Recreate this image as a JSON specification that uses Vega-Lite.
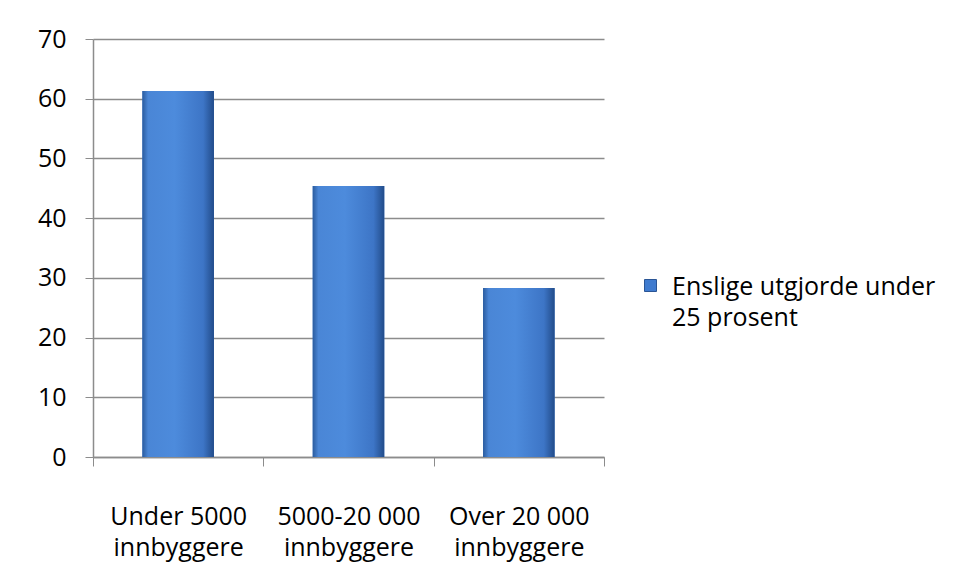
{
  "$schema": "https://vega.github.io/schema/vega-lite/v6.json",
  "autosize": "none",
  "width": 511,
  "height": 418,
  "padding": {"left": 93, "top": 39, "right": 351, "bottom": 123},
  "background": "white",
  "data": {
    "values": [
      {"gruppe": "Under 5000 innbyggere", "serie": "Enslige utgjorde under 25 prosent", "verdi": 61.3},
      {"gruppe": "5000-20 000 innbyggere", "serie": "Enslige utgjorde under 25 prosent", "verdi": 45.4},
      {"gruppe": "Over 20 000 innbyggere", "serie": "Enslige utgjorde under 25 prosent", "verdi": 28.3}
    ]
  },
  "encoding": {
    "x": {
      "field": "gruppe",
      "type": "nominal",
      "sort": null,
      "scale": {"paddingInner": 0, "paddingOuter": 0},
      "axis": {
        "title": null,
        "labelAngle": 0,
        "tickBand": "extent",
        "tickSize": 9,
        "tickColor": "#8c8c8c",
        "domainColor": "#8c8c8c",
        "domainWidth": 1.5,
        "labelPadding": 38,
        "labelLineHeight": 31,
        "labelFontSize": 25,
        "labelExpr": "split(replace(datum.label, ' innbyggere', '|innbyggere'), '|')"
      }
    },
    "y": {
      "field": "verdi",
      "type": "quantitative",
      "scale": {"domain": [0, 70], "nice": false},
      "axis": {
        "title": null,
        "values": [0, 10, 20, 30, 40, 50, 60, 70],
        "tickSize": 8,
        "tickColor": "#8c8c8c",
        "domainColor": "#8c8c8c",
        "domainWidth": 1.5,
        "gridColor": "#8c8c8c",
        "gridWidth": 1.3,
        "labelFontSize": 25,
        "labelPadding": 19
      }
    }
  },
  "layer": [
    {
      "mark": {"type": "bar", "width": {"band": 0.42}},
      "encoding": {
        "color": {
          "field": "serie",
          "type": "nominal",
          "scale": {"range": ["#3f7bcf"]},
          "legend": {
            "title": null,
            "orient": "none",
            "legendX": 545,
            "legendY": 243,
            "symbolType": "M-1,-2.5H1V-0.5H-1Z",
            "symbolSize": 144,
            "symbolStrokeColor": "#2a5595",
            "symbolStrokeWidth": 1,
            "labelOffset": 9,
            "labelBaseline": "alphabetic",
            "labelFontSize": 25,
            "labelLimit": 400,
            "labelExpr": "['Enslige utgjorde under', '25 prosent']"
          }
        }
      }
    },
    {
      "mark": {
        "type": "bar",
        "width": {"band": 0.42},
        "fill": {
          "gradient": "linear",
          "x1": 0, "y1": 0, "x2": 1, "y2": 0,
          "stops": [
            {"offset": 0, "color": "#2b5c9f"},
            {"offset": 0.08, "color": "#4a86d6"},
            {"offset": 0.45, "color": "#4d8bdc"},
            {"offset": 0.85, "color": "#3d75c6"},
            {"offset": 1, "color": "#224c8a"}
          ]
        }
      }
    }
  ],
  "config": {
    "font": "Open Sans",
    "view": {"stroke": null},
    "style": {"guide-label": {"lineHeight": 31}},
    "axis": {"labelFont": "Open Sans", "labelColor": "#000000", "gridDash": []},
    "legend": {"labelFont": "Open Sans", "labelColor": "#000000"}
  }
}
